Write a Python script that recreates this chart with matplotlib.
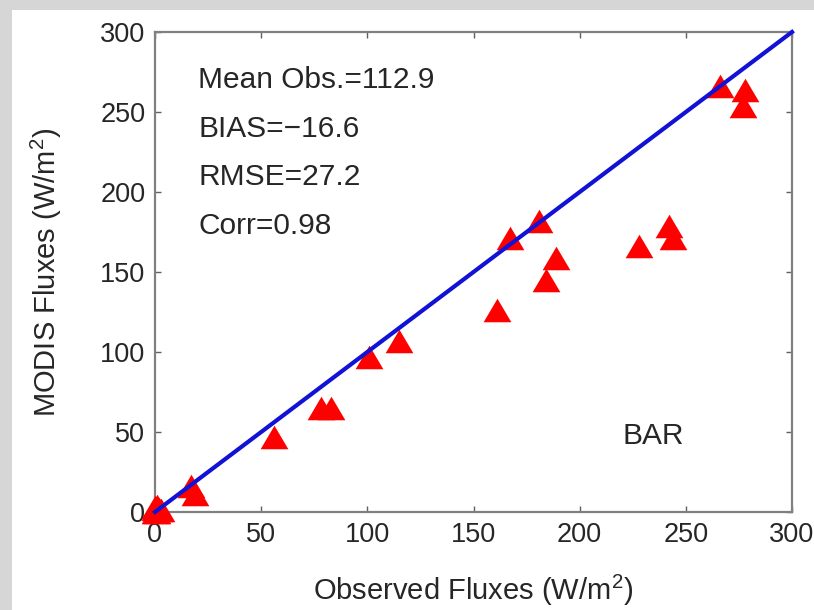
import matplotlib
matplotlib.use("Agg")
import matplotlib.pyplot as plt
from matplotlib.patches import Rectangle

plt.rcParams['font.family'] = ['Liberation Sans', 'DejaVu Sans']
plt.rcParams['mathtext.default'] = 'regular'

# observed vs MODIS fluxes (W/m2), site BAR
observed = [0, 1, 2, 0, 3, 1, 0, 2, 17, 19, 56, 78, 83, 101, 115, 161,
            167, 181, 184, 189, 228, 242, 244, 266, 277, 278]
modis = [3, 0, 1, 2, 1, 4, 0, 2, 16, 11, 47, 65, 65, 97, 107, 126,
         171, 182, 145, 159, 166, 179, 171, 266, 254, 264]

stats = ['Mean Obs.=112.9', 'BIAS=\u221216.6', 'RMSE=27.2', 'Corr=0.98']
site = 'BAR'
ticks = [0, 50, 100, 150, 200, 250, 300]

text_col = '#262626'

fig = plt.figure(figsize=(8.14, 6.10), dpi=100, facecolor='#d6d6d6')
fig.patches.append(Rectangle((12 / 814, 0), 1, 600 / 610, transform=fig.transFigure,
                             facecolor='white', edgecolor='none', zorder=-10))

ax = fig.add_axes([155 / 814, 98 / 610, 637 / 814, 480 / 610])

# slightly wide triangle marker
tri = [(-1.18, -1), (1.18, -1), (0, 1), (-1.18, -1)]
ax.plot(observed, modis, linestyle='none', marker=tri, markersize=20,
        color='#ff0000', markeredgewidth=0, clip_on=False, zorder=3)
ax.plot([0, 300], [0, 300], color='#1212d6', linewidth=3, clip_on=False, zorder=4)

ax.set_xlim(0, 300)
ax.set_ylim(0, 300)
ax.set_xticks(ticks)
ax.set_yticks(ticks)
ax.tick_params(direction='in', top=True, right=True, length=4.5, width=1,
               color='#606060', labelsize=19.5, labelcolor=text_col, pad=7)
for s in ax.spines.values():
    s.set_color('#808080')
    s.set_linewidth(1.6)

for i, line in enumerate(stats):
    ax.text(20.3, 270 - i * 30.4, line, fontsize=21.5, color=text_col, va='center')
ax.text(234.5, 47.5, site, fontsize=21.5, color=text_col, ha='center', va='center')

ax.set_xlabel('Observed Fluxes (W/m$^2$)', fontsize=21, color=text_col, labelpad=18)
ax.set_ylabel('MODIS Fluxes (W/m$^2$)', fontsize=21, color=text_col, labelpad=26)

fig.savefig('out.png', dpi=100, facecolor=fig.get_facecolor())
